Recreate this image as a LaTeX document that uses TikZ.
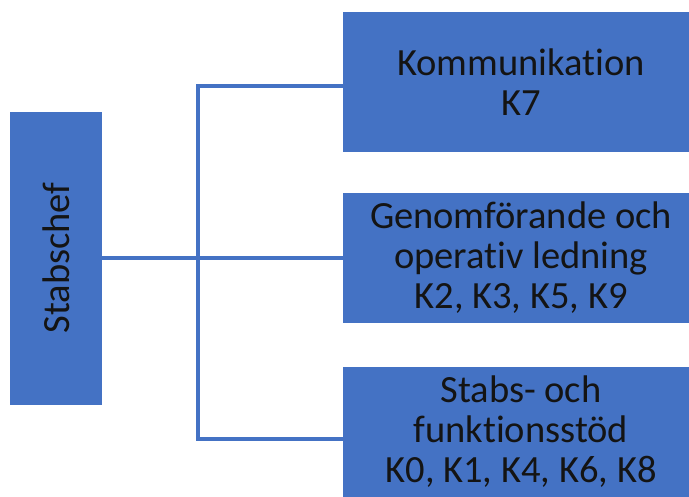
\documentclass[tikz,border=0pt]{standalone}
\usepackage{fontspec}
\setmainfont[RawFeature={-liga;-calt;-clig;-dlig}]{Carlito}
\definecolor{boxblue}{HTML}{4472C4}
\definecolor{ink}{HTML}{141414}
\begin{document}
\begin{tikzpicture}[x=1pt,y=-1pt,
  box/.style={fill=boxblue, draw=none, inner sep=0pt, align=center,
    text=ink, font=\fontsize{38.5}{40}\selectfont},
  link/.style={draw=boxblue, line width=3.2pt}]
\useasboundingbox (0,0) rectangle (689,496);
\clip (0,0) rectangle (689,496);

% chief of staff, text reading upwards
\node[box, rotate=90, minimum width=293, minimum height=92] (chef) at (56,258) {Stabschef};

% the three staff areas
\node[box, minimum width=356, minimum height=140] (k1) at (521,82)
  {Kommunikation\\K7};
\node[box, minimum width=356, minimum height=130] (k2) at (521,258)
  {Genomförande och\\operativ ledning\\K2, K3, K5, K9};
\node[box, minimum width=356, minimum height=130] (k3) at (521,432)
  {Stabs- och\\funktionsstöd\\K0, K1, K4, K6, K8};

% connector tree
\coordinate (top) at (198,86);
\coordinate (bot) at (198,439);
\draw[link] (chef) -- (k2.west);
\draw[link] (k1.west |- top) -- (top) -- (bot) -- (k3.west |- bot);
\end{tikzpicture}
\end{document}
